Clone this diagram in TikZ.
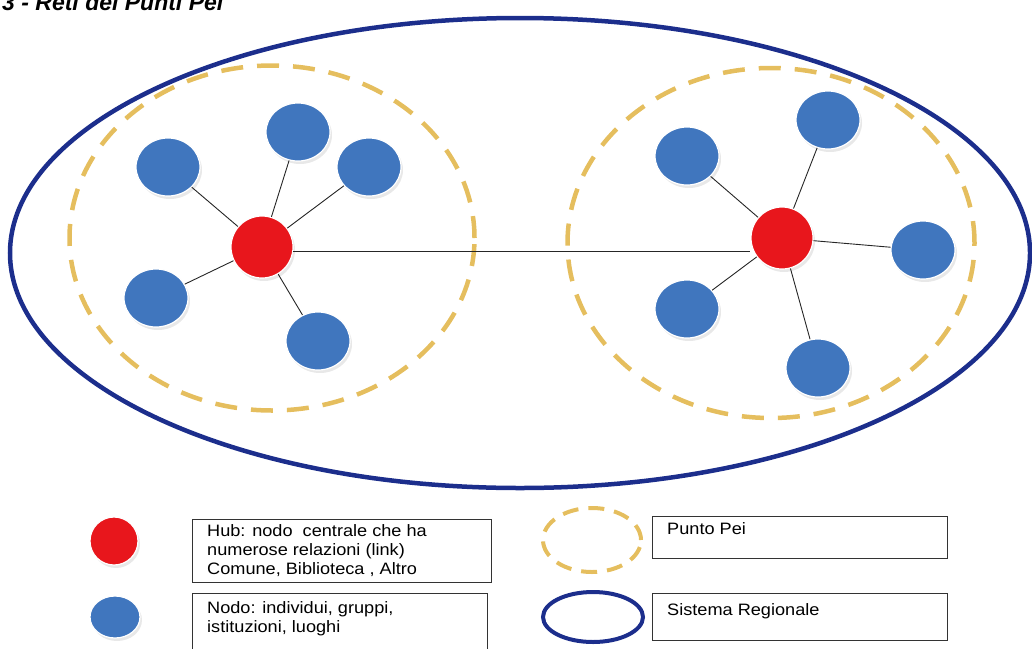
\documentclass[tikz,border=0pt]{standalone}
\usepackage{fontspec}
\setmainfont{Liberation Sans}
\newfontfamily\legfont[FakeStretch=1.1]{Liberation Sans}
\usepackage{xcolor}
\usepackage{tikz}
\usetikzlibrary{shapes.geometric, shadows, positioning, calc}
\definecolor{peiblue}{HTML}{4076BE}
\definecolor{peired}{HTML}{E8161C}
\definecolor{peinavy}{HTML}{1C2E8C}
\definecolor{peigold}{HTML}{E5BE5E}

\begin{document}
\begin{tikzpicture}[
  x=1pt, y=-1pt,
  nodo/.style={ellipse, fill=peiblue, draw=white, line width=1.2pt, minimum width=64pt, minimum height=58pt, inner sep=0pt, drop shadow={shadow xshift=2pt, shadow yshift=-3pt, fill=gray!35}},
  hub/.style={circle, fill=peired, draw=white, line width=1.2pt, minimum size=62pt, inner sep=0pt, drop shadow={shadow xshift=2pt, shadow yshift=-3pt, fill=gray!35}},
  puntopei/.style={ellipse, draw=peigold, line width=4.5pt, dash pattern=on 22pt off 14pt, inner sep=0pt},
  sistema/.style={ellipse, draw=peinavy, line width=4.5pt, inner sep=0pt},
  link/.style={draw=black!85, line width=0.9pt},
  box/.style={rectangle, draw=black!80, line width=1.2pt, inner sep=0pt, anchor=north west},
  testo/.style={align=left, font=\legfont\fontsize{16.5}{19}\selectfont, inner sep=0pt},
]
\useasboundingbox (0,0) rectangle (1032,648);
\clip (0,0) rectangle (1032,648);

% Title (cut off)
\node[font=\fontsize{23}{28}\bfseries\itshape\selectfont, anchor=base west, inner sep=0pt] (titolo) at (2,10) {3 - Reti dei Punti Pei};

% Sistema regionale e punti pei
\node[sistema, minimum width=1020pt, minimum height=470pt] (regione) at (520,253) {};
\node[puntopei, minimum width=405pt, minimum height=345pt] (peiA) at (272,238) {};
\node[puntopei, minimum width=407pt, minimum height=350pt] (peiB) at (771,243) {};

% Left cluster
\node[hub] (hA) at (262,247) {};
\node[nodo] (a1) at (168,167) {};
\node[nodo] (a2) at (298,132) {};
\node[nodo] (a3) at (369,167) {};
\node[nodo] (a4) at (156,298) {};
\node[nodo] (a5) at (318,341) {};

% Right cluster
\node[hub] (hB) at (782,238) {};
\node[nodo] (b1) at (687,156) {};
\node[nodo] (b2) at (828,120) {};
\node[nodo] (b3) at (923,250) {};
\node[nodo] (b4) at (687,309) {};
\node[nodo] (b5) at (818,368) {};

% Links
\foreach \n in {a1,a2,a3,a4,a5}
  \draw[link] (hA) -- (\n);
\foreach \n in {b1,b2,b3,b4,b5}
  \draw[link] (hB) -- (\n);
\draw[link] (hA.-8) -- (hA.-8 -| hB.west);

% Legend
\node[hub, minimum size=48pt] (lhub) at (114,541) {};
\node[nodo, minimum width=50pt, minimum height=42pt] (lnodo) at (115,617) {};
\node[puntopei, line width=4pt, dash pattern=on 16pt off 10pt, minimum width=98pt, minimum height=64pt] (lpei) at (592,540) {};
\node[sistema, line width=4pt, minimum width=100pt, minimum height=50pt] (lsistema) at (593,617) {};

\node[box, minimum width=299pt, minimum height=63pt] (bhub) at (192,519) {};
\node[box, minimum width=295pt, minimum height=62pt] (bnodo) at (192,593) {};
\node[box, minimum width=295pt, minimum height=42pt] (bpei) at (652,516) {};
\node[box, minimum width=295pt, minimum height=47pt] (bsistema) at (652,593) {};

\node[testo, below right=5pt and 15pt of bhub.north west] (thub) {Hub: nodo\ \ centrale che ha\\numerose relazioni (link)\\Comune, Biblioteca , Altro};
\node[testo, below right=8pt and 15pt of bnodo.north west] (tnodo) {Nodo: individui, gruppi,\\istituzioni, luoghi};
\node[testo, below right=6pt and 15pt of bpei.north west] (tpei) {Punto Pei};
\node[testo, below right=10pt and 15pt of bsistema.north west] (tsistema) {Sistema Regionale};

\end{tikzpicture}
\end{document}
